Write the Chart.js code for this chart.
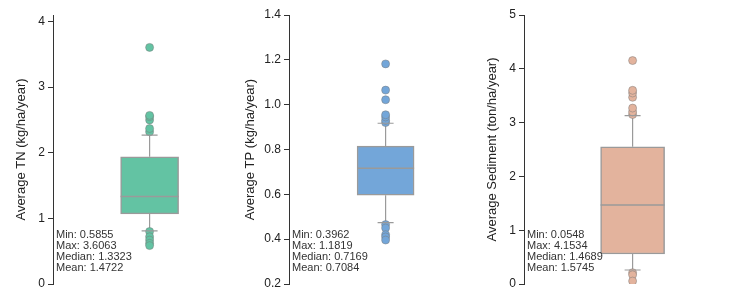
<!DOCTYPE html>
<html>
<head>
<meta charset="utf-8">
<script src="https://cdn.jsdelivr.net/npm/chart.js@4.4.0/dist/chart.umd.min.js"></script>
<style>
  html, body { margin: 0; padding: 0; background: #fff; }
  body { width: 746px; height: 308px; position: relative; overflow: hidden; }
  canvas { position: absolute; top: 0; }
</style>
</head>
<body>
<canvas id="c1" style="left:0px"></canvas>
<canvas id="c2" style="left:235px"></canvas>
<canvas id="c3" style="left:475px"></canvas>
<script>
// box plot data
const categories = ['TN', 'TP', 'Sediment'];
const yTitles = ['Average TN (kg/ha/year)', 'Average TP (kg/ha/year)', 'Average Sediment (ton/ha/year)'];

const q1 = [1.07, 0.596, 0.557];
const median = [1.3323, 0.7169, 1.4689];
const q3 = [1.94, 0.815, 2.55];
const whiskerLow = [0.81, 0.474, 0.26];
const whiskerHigh = [2.27, 0.917, 3.13];

const outliersTN = [0.80, 0.72, 0.67, 0.62, 0.5855, 2.32, 2.37, 2.50, 2.55, 2.57, 3.6063];
const outliersTP = [0.465, 0.45, 0.42, 0.41, 0.3962, 0.92, 0.93, 0.945, 0.955, 1.022, 1.065, 1.1819];
const outliersSed = [0.21, 0.17, 0.0548, 3.15, 3.2, 3.27, 3.47, 3.55, 3.6, 4.1534];

const statMin = ['0.5855', '0.3962', '0.0548'];
const statMax = ['3.6063', '1.1819', '4.1534'];
const statMedian = ['1.3323', '0.7169', '1.4689'];
const statMean = ['1.4722', '0.7084', '1.5745'];

const yMin = [0, 0.2, 0];
const yMax = [4.1, 1.4, 5];
const yStep = [1, 0.2, 1];

const colors = ['#63c3a3', '#73a6d9', '#e3b39d'];
const edge = '#9a9a9a';
const font = "'Liberation Sans', Arial, sans-serif";

// panel geometry (canvas size, axis position, title offset, box width)
const panels = [
  { id: 'c1', w: 251, axisW: 53, titlePad: 14, padR: 0, box: 58, digits: 0 },
  { id: 'c2', w: 252, axisW: 54, titlePad: 8, padR: 0, box: 57, digits: 1 },
  { id: 'c3', w: 271, axisW: 49, titlePad: 10, padR: 4, box: 64, digits: 0 }
];
const outliers = [outliersTN, outliersTP, outliersSed];

const boxExtras = {
  id: 'boxExtras',
  beforeDatasetsDraw(chart, args, o) {
    const ctx = chart.ctx, x = chart.scales.x, y = chart.scales.y;
    const cx = x.getPixelForValue(0);
    ctx.save();
    ctx.strokeStyle = edge;
    ctx.lineWidth = 1.2;
    ctx.beginPath();
    ctx.moveTo(cx, y.getPixelForValue(o.q3)); ctx.lineTo(cx, y.getPixelForValue(o.hi));
    ctx.moveTo(cx, y.getPixelForValue(o.q1)); ctx.lineTo(cx, y.getPixelForValue(o.lo));
    ctx.stroke();
    ctx.restore();
  },
  afterDatasetsDraw(chart, args, o) {
    const ctx = chart.ctx, x = chart.scales.x, y = chart.scales.y;
    const cx = x.getPixelForValue(0);
    const half = o.box / 2;
    ctx.save();
    ctx.strokeStyle = edge;
    ctx.lineWidth = 1.5;
    ctx.beginPath();
    const ym = y.getPixelForValue(o.median);
    ctx.moveTo(cx - half, ym); ctx.lineTo(cx + half, ym);
    ctx.stroke();
    ctx.lineWidth = 1.2;
    ctx.beginPath();
    [o.lo, o.hi].forEach(v => {
      const py = y.getPixelForValue(v);
      ctx.moveTo(cx - 8, py); ctx.lineTo(cx + 8, py);
    });
    ctx.stroke();
    // summary text
    ctx.fillStyle = '#333';
    ctx.font = '11px ' + font;
    ctx.textBaseline = 'middle';
    const lx = chart.chartArea.left + 3, by = chart.chartArea.bottom;
    o.lines.forEach((t, k) => ctx.fillText(t, lx, by - 49 + k * 11));
    ctx.restore();
  }
};

panels.forEach((p, i) => {
  const cv = document.getElementById(p.id);
  cv.width = p.w; cv.height = 308;
  cv.style.width = p.w + 'px'; cv.style.height = '308px';
  new Chart(cv.getContext('2d'), {
    type: 'bar',
    data: {
      labels: [categories[i]],
      datasets: [
        {
          type: 'line',
          data: outliers[i].map(v => ({ x: categories[i], y: v })),
          showLine: false,
          pointRadius: 4,
          pointBackgroundColor: colors[i],
          pointBorderColor: 'rgba(120,120,120,0.6)',
          pointBorderWidth: 0.8,
          order: 0
        },
        {
          type: 'bar',
          data: [[q1[i], q3[i]]],
          backgroundColor: colors[i],
          borderColor: edge,
          borderWidth: 1.5,
          borderSkipped: false,
          barThickness: p.box,
          order: 1
        }
      ]
    },
    options: {
      responsive: false,
      animation: false,
      layout: { padding: { top: 15, bottom: 24, left: 0, right: p.padR } },
      plugins: {
        legend: { display: false },
        tooltip: { enabled: false },
        boxExtras: {
          q1: q1[i], q3: q3[i], median: median[i], lo: whiskerLow[i], hi: whiskerHigh[i], box: p.box,
          lines: ['Min: ' + statMin[i], 'Max: ' + statMax[i], 'Median: ' + statMedian[i], 'Mean: ' + statMean[i]]
        }
      },
      scales: {
        x: { display: false },
        y: {
          min: yMin[i], max: yMax[i],
          afterFit: s => { s.width = p.axisW; },
          border: { display: true, color: '#333', width: 1 },
          grid: { drawOnChartArea: false, drawTicks: true, tickLength: 5, color: '#333' },
          ticks: {
            stepSize: yStep[i], includeBounds: false, padding: 3,
            color: '#222', font: { family: font, size: 12 },
            callback: v => Number(v).toFixed(p.digits)
          },
          title: {
            display: true, text: yTitles[i], color: '#222',
            font: { family: font, size: 13 }, padding: { top: p.titlePad, bottom: 0 }
          }
        }
      }
    },
    plugins: [boxExtras]
  });
});
</script>
</body>
</html>
